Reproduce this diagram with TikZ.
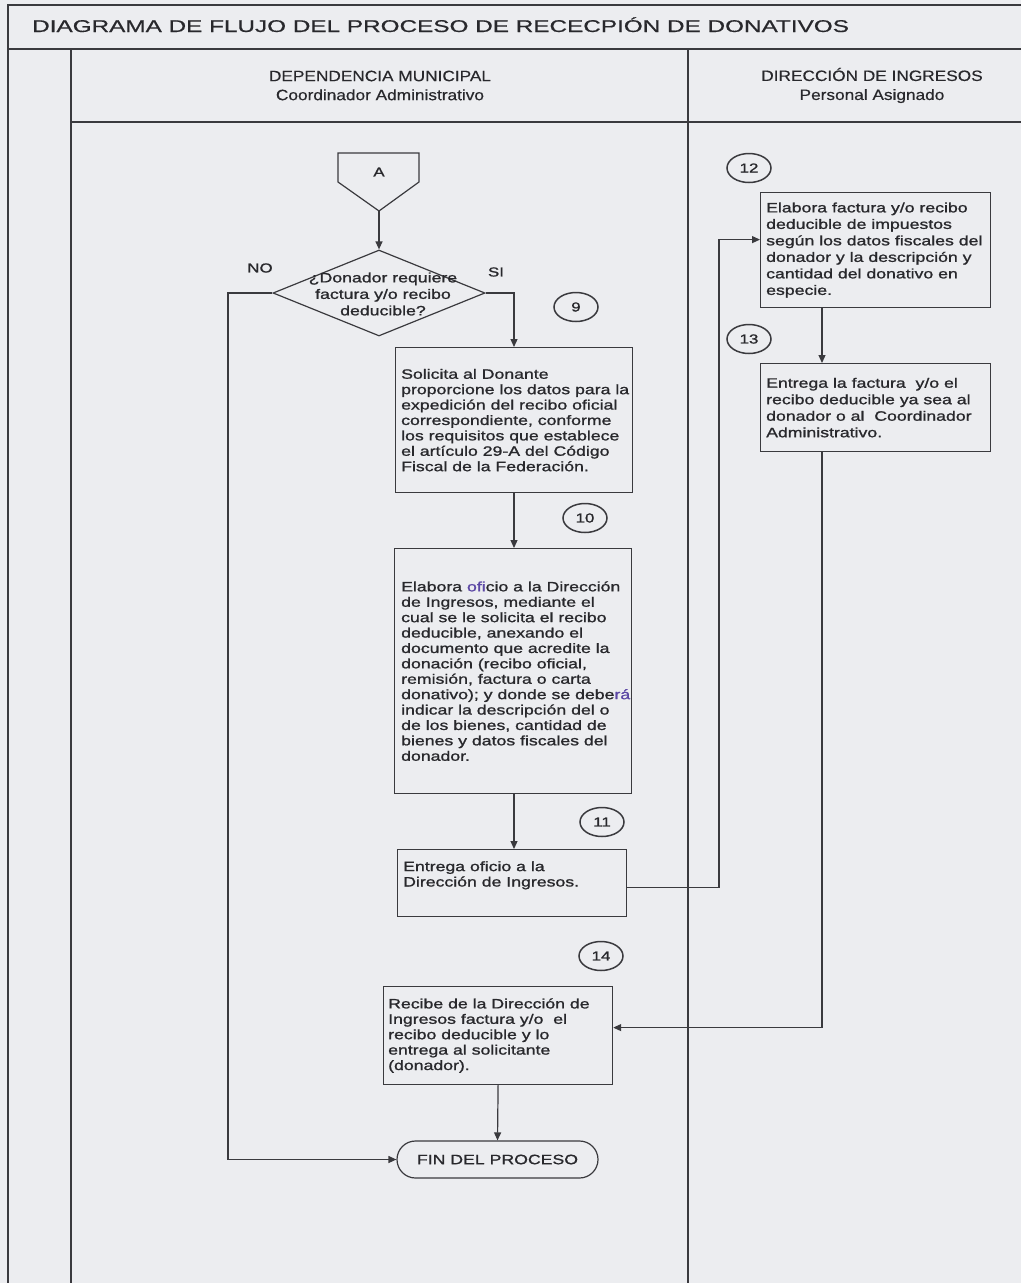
\documentclass[tikz,border=0pt]{standalone}
\usepackage{fontspec}
\setmainfont{Liberation Sans}
\newfontfamily\bxf{Liberation Sans}[FakeStretch=1.3,FakeBold=1.2]
\newfontfamily\ttlf{Liberation Sans}[FakeStretch=1.43,FakeBold=0.6]
\newfontfamily\hdf{Liberation Sans}[FakeStretch=1.15,FakeBold=0.4]
\usetikzlibrary{shapes.geometric,shapes.misc,arrows.meta}
\definecolor{bgc}{RGB}{236,237,240}
\definecolor{ink}{RGB}{58,58,62}
\definecolor{txtc}{RGB}{40,40,44}
\definecolor{hl}{RGB}{92,72,165}
\begin{document}
\begin{tikzpicture}[x=1pt,y=-1pt,
  frame/.style={draw=ink, line width=1.6pt},
  box/.style={draw=ink, line width=1.2pt, rectangle, inner sep=0pt, anchor=north west},
  btext/.style={anchor=west, align=left, inner sep=0pt, text=txtc, font=\bxf\fontsize{13.6}{15.4}\selectfont},
  rtext/.style={btext, font=\bxf\fontsize{13.6}{16.5}\selectfont},
  num/.style={ellipse, draw=ink, line width=1.5pt, minimum width=44pt, minimum height=29pt, inner sep=0pt, text=txtc, font=\bxf\fontsize{13}{14}\selectfont},
  arr/.style={draw=ink, line width=1.2pt, -{Triangle[length=8pt,width=7pt]}},
  ln/.style={draw=ink, line width=1.2pt},
  hdr/.style={align=center, inner sep=0pt, text=txtc, font=\hdf\fontsize{15}{19}\selectfont},
  lbl/.style={inner sep=0pt, text=txtc, font=\bxf\fontsize{13}{15}\selectfont}
  ]
\fill[bgc] (0,0) rectangle (1021,1283);
\useasboundingbox (0,0) rectangle (1021,1283);

% frame
\draw[frame] (8,1283) -- (8,5) -- (1021,5);
\draw[frame] (8,49) -- (1021,49);
\draw[frame] (71,49) -- (71,1283);
\draw[frame] (71,122) -- (1021,122);
\draw[frame] (688,49) -- (688,1283);

\node[anchor=base west, inner sep=0pt, text=txtc, font=\ttlf\fontsize{17}{20}\selectfont] (title) at (32,32) {DIAGRAMA DE FLUJO DEL PROCESO DE RECECPIÓN DE DONATIVOS};
\node[hdr] (h1) at (380,85.5) {DEPENDENCIA MUNICIPAL\\Coordinador Administrativo};
\node[hdr] (h2) at (872,85.5) {DIRECCIÓN DE INGRESOS\\Personal Asignado};

% connector A
\draw[ln] (338,153) -- (419,153) -- (419,182) -- (379,211) -- (338,182) -- cycle;
\node[lbl] (A) at (379,172) {A};
\coordinate (Atip) at (379,211);

% decision
\node[diamond, draw=ink, line width=1.2pt, minimum width=212pt, minimum height=86pt, inner sep=0pt] (d) at (379,293) {};
\node[align=center, inner sep=0pt, text=txtc, font=\bxf\fontsize{13.6}{16.5}\selectfont] (dt) at (383,294) {¿Donador requiere\\factura y/o recibo\\deducible?};
\node[lbl] (no) at (260,268) {NO};
\node[lbl] (si) at (496,272) {SI};

% boxes
\node[box, minimum width=237pt, minimum height=145pt] (b9) at (395,347) {};
\node[btext] (t9) at ([xshift=6pt]b9.west) {Solicita al Donante\\proporcione los datos para la\\expedición del recibo oficial\\correspondiente, conforme\\los requisitos que establece\\el artículo 29-A del Código\\Fiscal de la Federación.};

\node[box, minimum width=237pt, minimum height=245pt] (b10) at (394,548) {};
\node[btext] (t10) at ([xshift=7pt]b10.west) {Elabora \textcolor{hl}{ofi}cio a la Dirección\\de Ingresos, mediante el\\cual se le solicita el recibo\\deducible, anexando el\\documento que acredite la\\donación (recibo oficial,\\remisión, factura o carta\\donativo); y donde se debe\textcolor{hl}{rá}\\indicar la descripción del o\\de los bienes, cantidad de\\bienes y datos fiscales del\\donador.};

\node[box, minimum width=229pt, minimum height=67pt] (b11) at (397,849) {};
\node[btext, anchor=base west] (t11) at ([xshift=6pt,yshift=-37.5pt]b11.north west) {Entrega oficio a la\\Dirección de Ingresos.};

\node[box, minimum width=230pt, minimum height=115pt] (b12) at (760,192) {};
\node[rtext] (t12) at ([xshift=6pt]b12.west) {Elabora factura y/o recibo\\deducible de impuestos\\según los datos fiscales del\\donador y la descripción y\\cantidad del donativo en\\especie.};

\node[box, minimum width=230pt, minimum height=88pt] (b13) at (760,363) {};
\node[rtext] (t13) at ([xshift=6pt]b13.west) {Entrega la factura\ \ y/o el\\recibo deducible ya sea al\\donador o al\ \ Coordinador\\Administrativo.};

\node[box, minimum width=229pt, minimum height=98pt] (b14) at (383,986) {};
\node[btext] (t14) at ([xshift=5pt]b14.west) {Recibe de la Dirección de\\Ingresos factura y/o\ \ el\\recibo deducible y lo\\entrega al solicitante\\(donador).};

\node[rounded rectangle, draw=ink, line width=1.2pt, minimum width=201pt, minimum height=37pt, inner sep=0pt, text=txtc, font=\bxf\fontsize{13.6}{15}\selectfont] (fin) at (497.5,1159.5) {FIN DEL PROCESO};

% step numbers
\node[num] (n9) at (576,307) {9};
\node[num] (n10) at (585,518) {10};
\node[num] (n11) at (602,822) {11};
\node[num] (n12) at (749,168) {12};
\node[num] (n13) at (749,339) {13};
\node[num] (n14) at (601,956) {14};

% helper coordinates
\coordinate (nox) at (228,0);
\coordinate (mx) at (514,0);
\coordinate (rx) at (719,0);
\coordinate (cx) at (822,0);
\coordinate (e12) at ([yshift=10.5pt]b12.west);
\coordinate (e14) at ([yshift=8pt]b14.east);

% connectors
\draw[arr] (Atip) -- (d.north);
\draw[arr] (d.west) -| (nox |- fin.west) -- (fin.west);
\draw[arr] (d.east) -| (b9.north -| mx);
\draw[arr] (b9.south -| mx) -- (b10.north -| mx);
\draw[arr] (b10.south -| mx) -- (b11.north -| mx);
\draw[arr] ([yshift=-4.5pt]b11.east) -| (rx |- e12) -- (e12);
\draw[arr] (b12.south -| cx) -- (b13.north -| cx);
\draw[arr] (b13.south -| cx) |- (e14);
\draw[arr] (b14.south) -- (fin.north);
\end{tikzpicture}
\end{document}
